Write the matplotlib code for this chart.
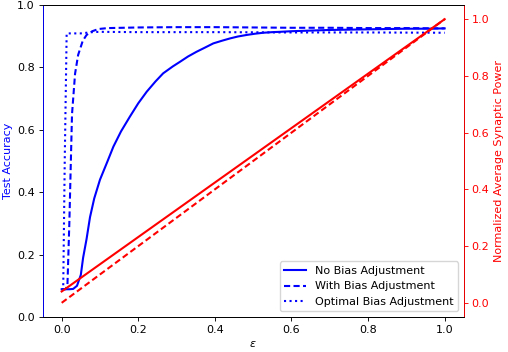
import numpy as np
import matplotlib
matplotlib.use("Agg")
import matplotlib.pyplot as plt

# epsilon values and accuracies
eps_no = [0.0, 0.01, 0.02, 0.03, 0.04, 0.05, 0.056, 0.065, 0.074, 0.085, 0.1, 0.12, 0.135, 0.155, 0.178, 0.2, 0.222,
          0.245, 0.265, 0.29, 0.309, 0.33, 0.352, 0.375, 0.396, 0.42, 0.44, 0.46, 0.483, 0.505, 0.526, 0.55, 0.57,
          0.6, 0.65, 0.7, 0.75, 0.8, 0.85, 0.9, 0.95, 1.0]
acc_no = [0.089, 0.089, 0.089, 0.09, 0.1, 0.135, 0.19, 0.25, 0.32, 0.38, 0.44, 0.50, 0.546, 0.595, 0.642, 0.685, 0.722,
          0.755, 0.781, 0.803, 0.818, 0.835, 0.85, 0.864, 0.877, 0.886, 0.893, 0.899, 0.904, 0.908, 0.911, 0.913, 0.914,
          0.916, 0.918, 0.92, 0.921, 0.922, 0.923, 0.924, 0.924, 0.925]

eps_with = [0.0, 0.01, 0.015, 0.02, 0.027, 0.035, 0.043, 0.055, 0.065, 0.08, 0.096, 0.12, 0.2, 0.3, 0.4, 0.5,
            0.6, 0.7, 0.8, 0.9, 1.0]
acc_with = [0.089, 0.089, 0.1, 0.3, 0.65, 0.78, 0.84, 0.885, 0.904, 0.916, 0.923, 0.926, 0.928, 0.929, 0.929, 0.928,
            0.927, 0.927, 0.926, 0.926, 0.925]

eps_opt = [0.0, 0.004, 0.008, 0.013, 0.05, 0.08, 0.1, 0.2, 0.4, 0.6, 0.8, 1.0]
acc_opt = [0.089, 0.089, 0.5, 0.909, 0.909, 0.913, 0.914, 0.913, 0.913, 0.912, 0.912, 0.911]

eps_pow = [0.0, 1.0]
pow_no = [0.04, 1.0]
pow_with = [0.0, 1.0]

s = 0.8
plt.rcParams.update({
    'font.size': 10 * s,
    'lines.linewidth': 1.5,
    'axes.linewidth': 0.8 * s,
    'xtick.major.size': 3.5 * s,
    'ytick.major.size': 3.5 * s,
    'xtick.major.width': 0.8 * s,
    'ytick.major.width': 0.8 * s,
    'xtick.major.pad': 3.5 * s,
    'ytick.major.pad': 3.5 * s,
    'axes.labelpad': 4.0 * s,
})

fig = plt.figure(figsize=(5.08, 3.52), dpi=100)
ax = fig.add_axes([0.0837, 0.0994, 0.8293, 0.8864])
ax2 = ax.twinx()

l1, = ax.plot(eps_no, acc_no, color='blue', ls='-', label='No Bias Adjustment')
l2, = ax.plot(eps_with, acc_with, color='blue', ls='--', dashes=(3.7 * s / 1.5 * 1.5, 1.6), label='With Bias Adjustment')
l3, = ax.plot(eps_opt, acc_opt, color='blue', ls=':', label='Optimal Bias Adjustment')
ax.set_ylim(0, 1.0)
ax.set_ylabel('Test Accuracy', color='blue')
ax.set_xlabel(r'$\epsilon$')

ax2.plot(eps_pow, pow_no, color='red', ls='-')
ax2.plot(eps_pow, pow_with, color='red', ls='--', dashes=(3.7 * s / 1.5 * 1.5, 1.6))
ax2.set_ylabel('Normalized Average Synaptic Power', color='red')
ax2.tick_params(axis='y', colors='red')
ax2.spines['right'].set_color('red')
ax2.spines['left'].set_color('blue')

ax2.legend(handles=[l1, l2, l3], loc='lower right')

fig.savefig('out.png', dpi=100)
